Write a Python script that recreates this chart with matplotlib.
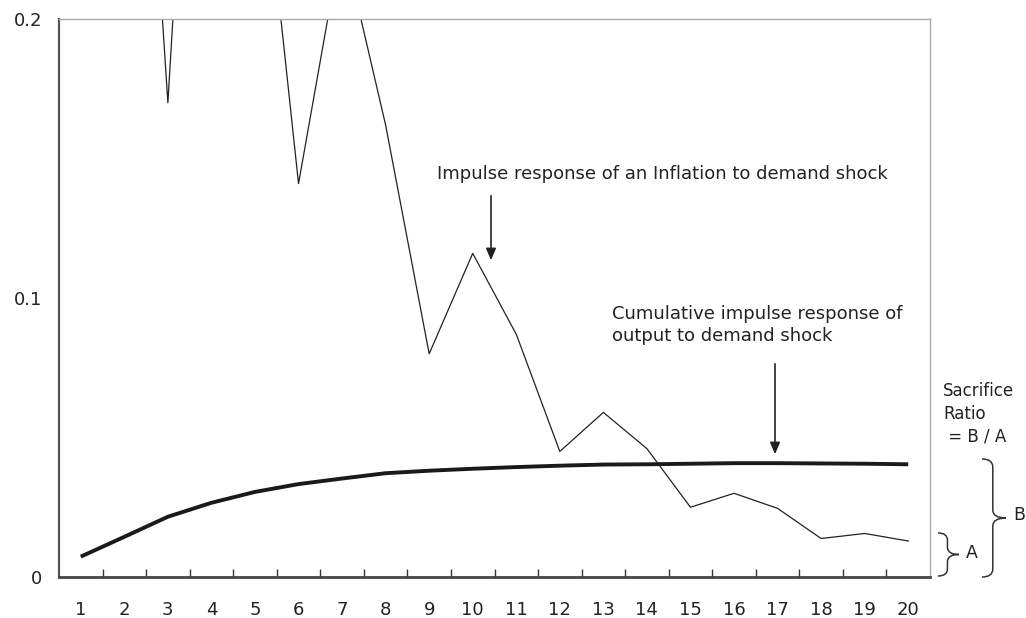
import numpy as np
import matplotlib
matplotlib.use('Agg')
import matplotlib.pyplot as plt
from matplotlib.path import Path
from matplotlib.patches import PathPatch

plt.rcParams['font.family'] = ['DejaVu Sans']

periods = list(range(1, 21))
# impulse response of inflation (values above 0.2 are clipped by the axis)
inflation = [0.30, 0.41, 0.170, 0.43, 0.287, 0.141, 0.229, 0.162, 0.080, 0.116,
             0.087, 0.045, 0.059, 0.046, 0.025, 0.030, 0.0246, 0.0138, 0.0156, 0.0129]
# cumulative impulse response of output
output_cum = [0.0073, 0.0144, 0.0216, 0.0266, 0.0305, 0.0333, 0.0353, 0.0372, 0.0381, 0.0388,
              0.0394, 0.0399, 0.0403, 0.0404, 0.0406, 0.0408, 0.0408, 0.0407, 0.0406, 0.0404]
ytick_vals = [0, 0.1, 0.2]
ytick_labels = ['0', '0.1', '0.2']

W, H = 1026, 618
fig = plt.figure(figsize=(W / 100, H / 100), dpi=100)
ax = fig.add_axes([59 / W, 1 - 577 / H, (930 - 59) / W, (577 - 19) / H])

ax.plot(periods, inflation, color='#222222', lw=0.9)
ax.plot(periods, output_cum, color='#1a1a1a', lw=2.8, solid_capstyle='butt')

ax.set_xlim(0.5, 20.5)
ax.set_ylim(0, 0.2)
ax.set_xticks(periods)
ax.set_xticklabels([str(p) for p in periods])
ax.set_xticks(np.arange(1.5, 20.5, 1), minor=True)
ax.tick_params(axis='x', which='major', length=0, pad=17, labelsize=13, colors='#222222')
ax.tick_params(axis='x', which='minor', direction='in', length=6, width=1, color='#333333')
ax.set_yticks(ytick_vals)
ax.set_yticklabels(ytick_labels)
ax.tick_params(axis='y', length=0, pad=12, labelsize=13, colors='#222222')

ax.spines['left'].set_color('#555555')
ax.spines['left'].set_linewidth(1.6)
ax.spines['bottom'].set_color('#444444')
ax.spines['bottom'].set_linewidth(2.0)
for s in ['top', 'right']:
    ax.spines[s].set_color('#aaaaaa')
    ax.spines[s].set_linewidth(1.0)

arrow = dict(arrowstyle='-|>,head_length=0.7,head_width=0.3', color='#222222', lw=1.2)

ax.text(437 / W, 1 - 174 / H, 'Impulse response of an Inflation to demand shock',
        transform=fig.transFigure, fontsize=13, va='center', ha='left', color='#222222')
ax.annotate('', xy=(491 / W, 1 - 263 / H), xytext=(491 / W, 1 - 193 / H),
            xycoords='figure fraction', textcoords='figure fraction', arrowprops=arrow)

ax.text(612 / W, 1 - 325 / H, 'Cumulative impulse response of\noutput to demand shock',
        transform=fig.transFigure, fontsize=13, va='center', ha='left', color='#222222',
        linespacing=1.25)
ax.annotate('', xy=(775 / W, 1 - 457 / H), xytext=(775 / W, 1 - 361 / H),
            xycoords='figure fraction', textcoords='figure fraction', arrowprops=arrow)

fig.text(943 / W, 1 - 414 / H, 'Sacrifice\nRatio\n = B / A', fontsize=12,
         va='center', ha='left', color='#222222', linespacing=1.35)


def brace(x0, yt, yb, w):
    # right-pointing curly brace in image pixel coords
    xm = x0 + w * 0.45
    ym = (yt + yb) / 2
    r = min(8, (yb - yt) / 6)
    pts = [(x0, yt), (xm, yt), (xm, yt + r), (xm, yt + 2 * r),
           (xm, ym - r), (xm, ym), (x0 + w, ym),
           (xm, ym), (xm, ym + r),
           (xm, yb - 2 * r), (xm, yb - r), (xm, yb), (x0, yb)]
    codes = [Path.MOVETO, Path.CURVE3, Path.CURVE3, Path.LINETO,
             Path.LINETO, Path.CURVE3, Path.CURVE3,
             Path.CURVE3, Path.CURVE3,
             Path.LINETO, Path.LINETO, Path.CURVE3, Path.CURVE3]
    pts = [(px / W, 1 - py / H) for px, py in pts]
    fig.patches.append(PathPatch(Path(pts, codes), transform=fig.transFigure,
                                 fill=False, lw=1.1, ec='#333333'))


brace(938, 533, 576, 21)
fig.text(966 / W, 1 - 553 / H, 'A', fontsize=12.5, va='center', ha='left', color='#222222')
brace(982, 459, 577, 24)
fig.text(1013 / W, 1 - 515 / H, 'B', fontsize=12.5, va='center', ha='left', color='#222222')

fig.savefig('out.png', dpi=100)
